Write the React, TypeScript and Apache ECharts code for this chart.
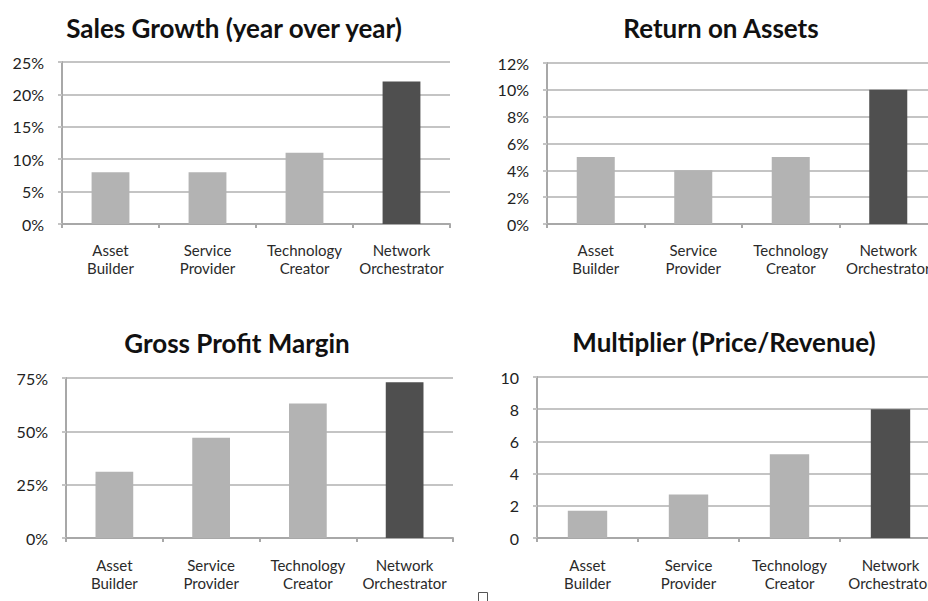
import React, { useEffect, useRef } from "react";
import * as echarts from "echarts";

const categories = ["Asset\nBuilder", "Service\nProvider", "Technology\nCreator", "Network\nOrchestrator"];
const titles = ["Sales Growth (year over year)", "Return on Assets", "Gross Profit Margin", "Multiplier (Price/Revenue)"];
const salesGrowth = [8, 8, 11, 22];
const returnOnAssets = [5, 4, 5, 10];
const grossProfitMargin = [31, 47, 63, 73];
const multiplier = [1.7, 2.7, 5.2, 8];
const axisMax = [25, 12, 75, 10];
const axisInterval = [5, 2, 25, 2];
const percentAxis = [true, true, true, false];

const LIGHT = "#b3b3b3";
const DARK = "#4f4f4f";
const FONT = "Lato";

export default function App() {
  const ref = useRef<HTMLDivElement>(null);
  useEffect(() => {
    if (!ref.current) return;
    const chart = echarts.init(ref.current, undefined, { renderer: "svg" });
    const grids = [
      { left: 62, top: 62, width: 388, height: 162 },
      { left: 547, top: 63, width: 390, height: 161 },
      { left: 66, top: 378, width: 387, height: 160 },
      { left: 537, top: 377, width: 404, height: 161 },
    ].map((g) => ({ ...g, outerBoundsMode: "none", containLabel: false }));
    const datasets = [salesGrowth, returnOnAssets, grossProfitMargin, multiplier];
    const titlePos = [
      [234, 28],
      [721, 28],
      [237, 343],
      [724, 342],
    ];
    const xAxis = grids.map((_, i) => ({
      type: "category",
      gridIndex: i,
      data: categories,
      axisLine: { lineStyle: { color: "#a8a8a8", width: 2 } },
      axisTick: { show: true, length: 4, lineStyle: { color: "#a8a8a8", width: 2 } },
      axisLabel: {
        color: "#2a2a2a",
        fontFamily: FONT,
        fontSize: 15,
        lineHeight: 18,
        margin: i >= 2 ? 18 : 17,
        interval: 0,
      },
    }));
    const yAxis = grids.map((_, i) => ({
      type: "value",
      gridIndex: i,
      min: 0,
      max: axisMax[i],
      interval: axisInterval[i],
      axisLine: { show: true, lineStyle: { color: "#a8a8a8", width: 2 } },
      axisTick: { show: true, length: 4, lineStyle: { color: "#c4c4c4", width: 2 } },
      splitLine: { lineStyle: { color: "#c4c4c4", width: 2 } },
      axisLabel: {
        color: "#222",
        fontFamily: FONT,
        fontSize: 16,
        margin: 18,
        formatter: (v: number) => (percentAxis[i] ? v + "%" : String(v)),
      },
    }));
    const series = datasets.map((d, i) => ({
      type: "bar",
      xAxisIndex: i,
      yAxisIndex: i,
      barWidth: "39%",
      data: d.map((v, j) => ({
        value: v,
        itemStyle: { color: j === 3 ? DARK : LIGHT },
      })),
    }));
    const graphic: any[] = titles.map((t, i) => ({
      type: "text",
      x: titlePos[i][0],
      y: titlePos[i][1],
      style: {
        text: t,
        fill: "#111",
        font: `bold 26px ${FONT}`,
        textAlign: "center",
        textVerticalAlign: "middle",
      },
    }));
    graphic.push({
      type: "rect",
      shape: { x: 478.5, y: 592.5, width: 9, height: 9 },
      style: { fill: "none", stroke: "#555", lineWidth: 1 },
    });
    chart.setOption({
      animation: false,
      backgroundColor: "#fff",
      grid: grids,
      xAxis,
      yAxis,
      series,
      graphic,
    });
    return () => chart.dispose();
  }, []);
  return (
    <div
      ref={ref}
      style={{ position: "absolute", left: 0, top: 0, width: 928, height: 601 }}
    />
  );
}
